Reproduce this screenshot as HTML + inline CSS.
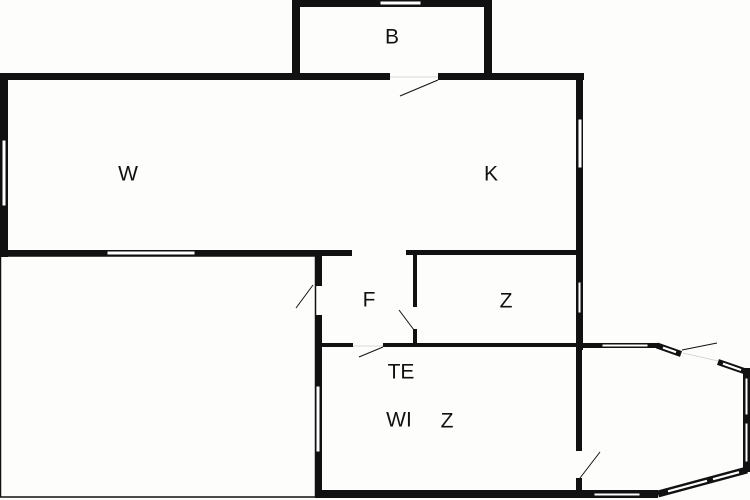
<!DOCTYPE html>
<html><head><meta charset="utf-8"><style>
html,body{margin:0;padding:0;background:#fdfdfc;}
svg{display:block}
text{font-family:"Liberation Sans",sans-serif;font-size:21px;fill:#111;text-anchor:middle;dominant-baseline:central}
</style></head><body>
<svg width="750" height="500" viewBox="0 0 750 500">
<rect width="750" height="500" fill="#fdfdfc"/>
<g fill="#111">
<rect x="292" y="0" width="8" height="80"/>
<rect x="484" y="0" width="8" height="80"/>
<rect x="292" y="0" width="200" height="7"/>
<rect x="0" y="73" width="390" height="7"/>
<rect x="438" y="73" width="146" height="7"/>
<rect x="0" y="73" width="8" height="184"/>
<rect x="576" y="73" width="7" height="277"/>
<rect x="576" y="345" width="6" height="106"/>
<rect x="576" y="478" width="6" height="20"/>
<rect x="0" y="250" width="352" height="6"/>
<rect x="406" y="250" width="177" height="5"/>
<rect x="315" y="250" width="7" height="36"/>
<rect x="315" y="315" width="7" height="183"/>
<rect x="413" y="253" width="4" height="54"/>
<rect x="413" y="329" width="4" height="18"/>
<rect x="320" y="343" width="33" height="4"/>
<rect x="383" y="343" width="200" height="4"/>
<rect x="580" y="343" width="78" height="5"/>
<rect x="318" y="490" width="340" height="8"/>
<rect x="743" y="368" width="7" height="104"/>
</g>
<g fill="none" stroke="#111">
<polyline points="657,345.5 681,354" stroke-width="6"/>
<polyline points="718,362 747,372" stroke-width="6"/>
<polyline points="747,470 658,494" stroke-width="7"/>
<rect x="0.5" y="256" width="315" height="241" stroke-width="1.5"/>
</g>
<g fill="#fff" stroke="#111" stroke-width="1">
<rect x="380" y="1" width="41" height="4"/>
<rect x="2" y="140" width="4" height="66"/>
<rect x="578" y="119" width="4" height="49"/>
<rect x="107" y="251" width="88" height="4"/>
<rect x="578" y="282" width="3" height="31"/>
<rect x="316" y="386" width="4" height="66"/>
<rect x="602" y="344" width="46" height="3"/>
<rect x="745" y="378" width="3" height="37"/>
<rect x="745" y="423" width="3" height="39"/>
<rect x="594" y="493" width="46" height="3"/>
</g>
<g stroke="#fff" stroke-width="2.2" fill="none">
<line x1="663" y1="347.6" x2="676" y2="352.2"/>
<line x1="723" y1="363.7" x2="741" y2="370"/>
<line x1="668" y1="491.3" x2="707" y2="480.8"/>
<line x1="713" y1="479.2" x2="739" y2="472.2"/>
</g>
<g stroke="#111" stroke-width="1" fill="none">
<line x1="438" y1="80" x2="400" y2="96"/>
<line x1="313" y1="285" x2="296" y2="308"/>
<line x1="414" y1="330" x2="399" y2="310"/>
<line x1="383" y1="347" x2="359" y2="357"/>
<line x1="580" y1="478" x2="600" y2="452"/>
<line x1="682" y1="350" x2="717" y2="343"/>
</g>
<g stroke="#ccc" stroke-width="0.8" fill="none">
<line x1="390" y1="77" x2="438" y2="77"/>
<line x1="353" y1="346" x2="383" y2="346"/>
<line x1="683" y1="353" x2="718" y2="361"/>
</g>
<text x="392" y="37">B</text>
<text x="128" y="174">W</text>
<text x="491" y="174">K</text>
<text x="369" y="300">F</text>
<text x="506" y="301">Z</text>
<text x="401" y="372">TE</text>
<text x="399" y="420">WI</text>
<text x="447" y="421">Z</text>
</svg>
</body></html>
